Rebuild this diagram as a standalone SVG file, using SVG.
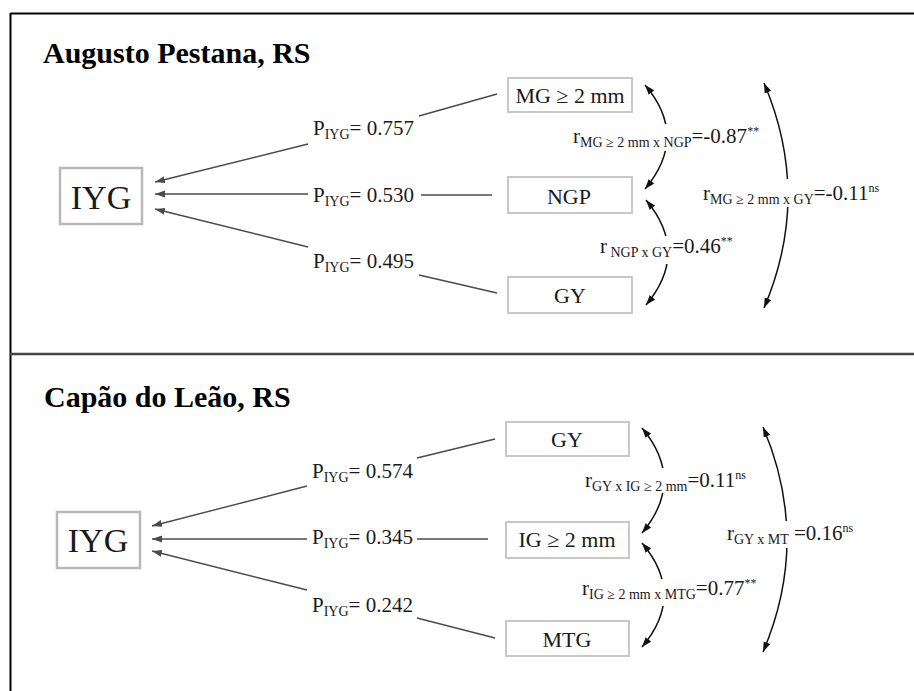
<svg xmlns="http://www.w3.org/2000/svg" width="914" height="691" viewBox="0 0 914 691">
<style>
text{font-family:"Liberation Serif","Times New Roman",serif;fill:#1a1a1a}
.title{font-size:30px;font-weight:bold;fill:#000}
.big{font-size:34px;text-anchor:middle}
.box{font-size:22px;text-anchor:middle}
.lab{font-size:21px}
.sub{font-size:14px}
.sup{font-size:12px}
.nodebox{fill:#fff;stroke:#c8c8c8;stroke-width:2}
.ybox{fill:#fff;stroke:#b8b8b8;stroke-width:2.5}
.path{fill:none;stroke:#4a4a4a;stroke-width:1.4}
.arc{fill:none;stroke:#111;stroke-width:1.5}
.mask{fill:#fff}
</style>
<defs>
<marker id="ah" markerUnits="userSpaceOnUse" markerWidth="11" markerHeight="8" refX="10" refY="3.5" orient="auto"><path d="M0,0 L10,3.5 L0,7 z" fill="#4a4a4a"/></marker>
<marker id="ak" markerUnits="userSpaceOnUse" markerWidth="11" markerHeight="8" refX="10" refY="3.5" orient="auto-start-reverse"><path d="M0,0 L10,3.5 L0,7 z" fill="#111"/></marker>
</defs>
<rect width="914" height="691" fill="#fff"/>
<g id="frame" fill="none">
<line x1="10.5" y1="13.5" x2="914" y2="13.5" stroke="#000" stroke-width="2"/>
<line x1="10.5" y1="13" x2="10.5" y2="691" stroke="#000" stroke-width="2"/>
<line x1="10" y1="354" x2="914" y2="354" stroke="#444" stroke-width="2.5"/>
</g>
<text class="title" x="43" y="63">Augusto Pestana, RS</text>
<text class="title" x="44" y="407">Capão do Leão, RS</text>

<g id="connectors">
<line class="path" x1="308" y1="144" x2="155" y2="182" marker-end="url(#ah)"/>
<line class="path" x1="419" y1="116" x2="497" y2="94"/>
<line class="path" x1="308" y1="194" x2="155" y2="194" marker-end="url(#ah)"/>
<line class="path" x1="421" y1="195" x2="492" y2="195"/>
<line class="path" x1="308" y1="247" x2="155" y2="209" marker-end="url(#ah)"/>
<line class="path" x1="419" y1="275" x2="497" y2="293"/>
<path class="arc" d="M645,85 Q689,136.5 645,189" marker-start="url(#ak)" marker-end="url(#ak)"/>
<path class="arc" d="M646,200 Q690,252.5 646,305" marker-start="url(#ak)" marker-end="url(#ak)"/>
<path class="arc" d="M764,83 Q812,195.5 764,308" marker-start="url(#ak)" marker-end="url(#ak)"/>
<line class="path" x1="307" y1="486" x2="152" y2="526" marker-end="url(#ah)"/>
<line class="path" x1="417" y1="458" x2="495" y2="439"/>
<line class="path" x1="307" y1="539" x2="152" y2="539" marker-end="url(#ah)"/>
<line class="path" x1="417" y1="539" x2="488" y2="539"/>
<line class="path" x1="307" y1="590" x2="152" y2="551" marker-end="url(#ah)"/>
<line class="path" x1="417" y1="618" x2="495" y2="638"/>
<path class="arc" d="M642,428 Q686,480.5 642,533" marker-start="url(#ak)" marker-end="url(#ak)"/>
<path class="arc" d="M642,543 Q686,595 642,647" marker-start="url(#ak)" marker-end="url(#ak)"/>
<path class="arc" d="M763,427 Q811,539.5 763,652" marker-start="url(#ak)" marker-end="url(#ak)"/>
</g>

<g id="labels">
<text class="lab" x="313" y="135">P<tspan class="sub" dy="4">IYG</tspan><tspan dy="-4">= 0.757</tspan></text>
<text class="lab" x="313" y="202">P<tspan class="sub" dy="4">IYG</tspan><tspan dy="-4">= 0.530</tspan></text>
<text class="lab" x="313" y="268">P<tspan class="sub" dy="4">IYG</tspan><tspan dy="-4">= 0.495</tspan></text>
<rect class="mask" x="655" y="124" width="30" height="27"/>
<text class="lab" x="573" y="143">r<tspan class="sub" dy="4">MG ≥ 2 mm x NGP</tspan><tspan dy="-4">=-0.87</tspan><tspan class="sup" dy="-8">**</tspan></text>
<rect class="mask" x="655" y="236" width="30" height="28"/>
<text class="lab" x="600" y="253">r<tspan class="sub" dy="4"> NGP x GY</tspan><tspan dy="-4">=0.46</tspan><tspan class="sup" dy="-8">**</tspan></text>
<rect class="mask" x="775" y="179" width="30" height="28"/>
<text class="lab" x="703" y="200">r<tspan class="sub" dy="4">MG ≥ 2 mm x GY</tspan><tspan dy="-4">=-0.11</tspan><tspan class="sup" dy="-8">ns</tspan></text>

<text class="lab" x="312" y="478">P<tspan class="sub" dy="4">IYG</tspan><tspan dy="-4">= 0.574</tspan></text>
<text class="lab" x="312" y="544">P<tspan class="sub" dy="4">IYG</tspan><tspan dy="-4">= 0.345</tspan></text>
<text class="lab" x="312" y="612">P<tspan class="sub" dy="4">IYG</tspan><tspan dy="-4">= 0.242</tspan></text>
<rect class="mask" x="652" y="468" width="30" height="25"/>
<text class="lab" x="585" y="487">r<tspan class="sub" dy="4">GY x IG ≥ 2 mm</tspan><tspan dy="-4">=0.11</tspan><tspan class="sup" dy="-8">ns</tspan></text>
<rect class="mask" x="652" y="579" width="30" height="27"/>
<text class="lab" x="582" y="595">r<tspan class="sub" dy="4">IG ≥ 2 mm x MTG</tspan><tspan dy="-4">=0.77</tspan><tspan class="sup" dy="-8">**</tspan></text>
<rect class="mask" x="773" y="521" width="30" height="27"/>
<text class="lab" x="727" y="540">r<tspan class="sub" dy="4">GY x MT</tspan><tspan dy="-4"> =0.16</tspan><tspan class="sup" dy="-8">ns</tspan></text>
</g>

<g id="node-iyg-top"><rect class="ybox" x="60" y="168" width="82" height="56"/><text class="big" x="101" y="209">IYG</text></g>
<g id="node-mg-top"><rect class="nodebox" x="508" y="78" width="124" height="34"/><text class="box" x="570" y="103">MG ≥ 2 mm</text></g>
<g id="node-ngp-top"><rect class="nodebox" x="508" y="177" width="124" height="36"/><text class="box" x="569" y="204">NGP</text></g>
<g id="node-gy-top"><rect class="nodebox" x="508" y="277" width="124" height="36"/><text class="box" x="570" y="303">GY</text></g>

<g id="node-iyg-bottom"><rect class="ybox" x="57" y="512" width="83" height="56"/><text class="big" x="98" y="552">IYG</text></g>
<g id="node-gy-bottom"><rect class="nodebox" x="506" y="422" width="123" height="34"/><text class="box" x="567" y="447">GY</text></g>
<g id="node-ig-bottom"><rect class="nodebox" x="506" y="522" width="123" height="36"/><text class="box" x="567" y="547">IG ≥ 2 mm</text></g>
<g id="node-mtg-bottom"><rect class="nodebox" x="506" y="621" width="123" height="35"/><text class="box" x="567" y="647">MTG</text></g>
</svg>
